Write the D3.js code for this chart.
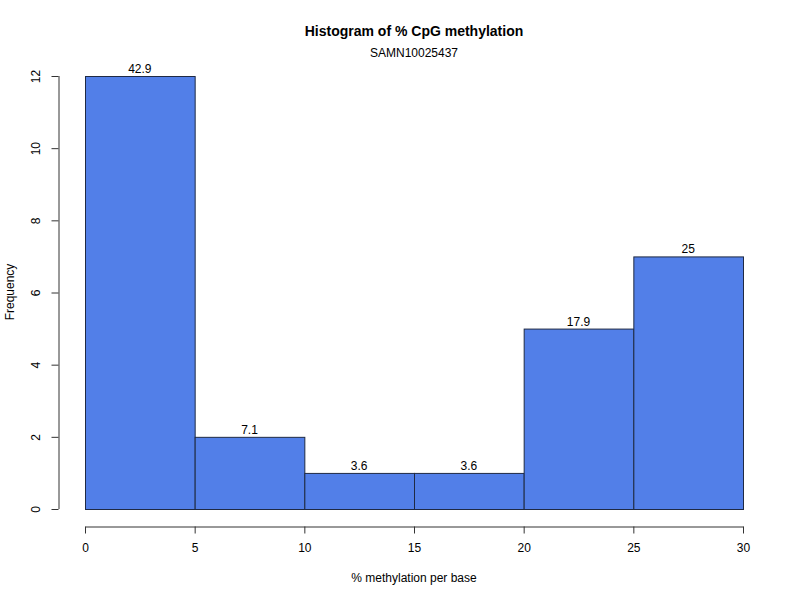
<!DOCTYPE html>
<html><head><meta charset="utf-8">
<script src="https://cdn.jsdelivr.net/npm/d3@7"></script>
<style>body{margin:0;background:#fff}text{font-family:"Liberation Sans",Arial,Helvetica,sans-serif;fill:#000}</style>
</head><body><div id="chart"></div>
<script>
const binStarts = [0, 5, 10, 15, 20, 25];
const binEnds = [5, 10, 15, 20, 25, 30];
const counts = [12, 2, 1, 1, 5, 7];
const percentLabels = ["42.9", "7.1", "3.6", "3.6", "17.9", "25"];
const xTicks = [0, 5, 10, 15, 20, 25, 30];
const yTicks = [0, 2, 4, 6, 8, 10, 12];

const W = 800, H = 600;
const svg = d3.select("#chart").append("svg").attr("width", W).attr("height", H);
const x = d3.scaleLinear().domain([0, 30]).range([85, 743]);
const y = d3.scaleLinear().domain([0, 12]).range([509, 76]);

const bars = binStarts.map((s, i) => ({s, e: binEnds[i], c: counts[i], l: percentLabels[i]}));
svg.selectAll("rect.bar").data(bars).enter().append("rect")
  .attr("x", d => x(d.s) + 0.5).attr("y", d => y(d.c) + 0.5)
  .attr("width", d => x(d.e) - x(d.s)).attr("height", d => y(0) - y(d.c))
  .attr("fill", "#527fe8").attr("stroke", "#1f2a44").attr("stroke-width", 1);

svg.selectAll("text.lab").data(bars).enter().append("text")
  .attr("x", d => (x(d.s) + x(d.e)) / 2).attr("y", d => y(d.c) - 3)
  .attr("text-anchor", "middle").attr("font-size", 12).text(d => d.l);

// x axis
const xa = svg.append("g").attr("transform", "translate(0,526.5)")
  .call(d3.axisBottom(x).tickValues(xTicks).tickSize(7).tickPadding(10).tickFormat(d3.format("d")));
xa.select(".domain").attr("stroke", "#333").attr("d", `M${x(0)+0.5},0.5H${x(30)+0.5}`);
xa.selectAll(".tick line").attr("stroke", "#333");
xa.selectAll("text").attr("font-size", 12).style("font-family", '"Liberation Sans",Arial,sans-serif');

// y axis
const ya = svg.append("g").attr("transform", "translate(58.5,0)")
  .call(d3.axisLeft(y).tickValues(yTicks).tickSize(7).tickPadding(0).tickFormat(d3.format("d")));
ya.select(".domain").attr("stroke", "#333").attr("d", `M0.5,${y(0)}V${y(12)}`);
ya.selectAll(".tick line").attr("stroke", "#333");
ya.selectAll(".tick text").attr("font-size", 12).style("font-family", '"Liberation Sans",Arial,sans-serif')
  .attr("x", null).attr("dy", null).attr("text-anchor", "middle")
  .attr("transform", "translate(-23,0) rotate(-90)").attr("y", 0).attr("dy", "0.35em");

svg.append("text").attr("x", 414).attr("y", 36).attr("text-anchor", "middle")
  .attr("font-size", 14).attr("font-weight", "bold").text("Histogram of % CpG methylation");
svg.append("text").attr("x", 414).attr("y", 57).attr("text-anchor", "middle")
  .attr("font-size", 12).text("SAMN10025437");
svg.append("text").attr("x", 414).attr("y", 582).attr("text-anchor", "middle")
  .attr("font-size", 12).text("% methylation per base");
svg.append("text").attr("transform", "translate(14,292) rotate(-90)").attr("text-anchor", "middle")
  .attr("font-size", 12).text("Frequency");
</script></body></html>
